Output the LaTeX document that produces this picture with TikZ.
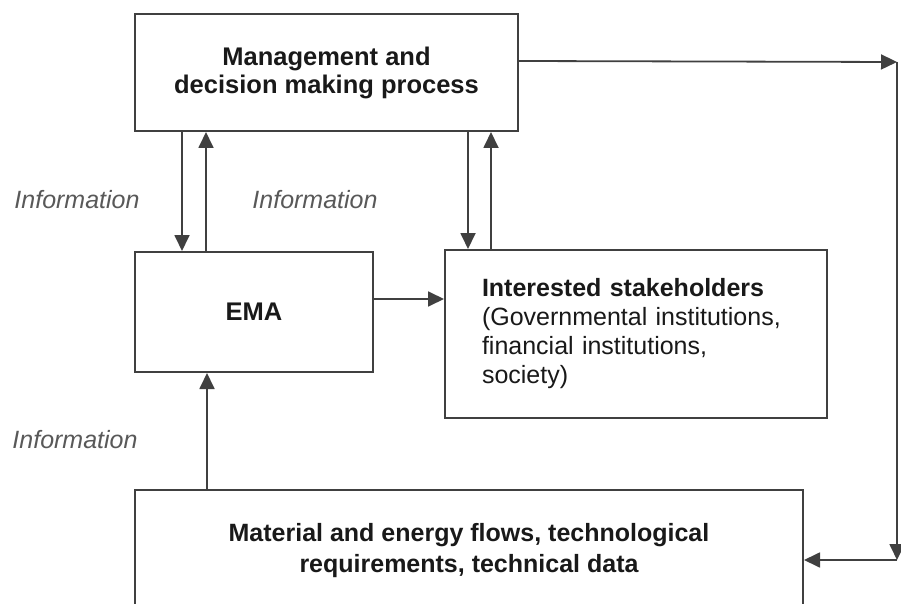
\documentclass[tikz,border=0pt]{standalone}
\usepackage{fontspec}
\setmainfont{Liberation Sans}
\usetikzlibrary{arrows.meta}
\begin{document}
\begin{tikzpicture}[x=1pt,y=-1pt,
  box/.style={draw=black!75, line width=2pt, fill=white, inner sep=0pt, align=center, text=black!90},
  arr/.style={draw=black!75, line width=1.8pt, -{Triangle[length=16pt,width=15pt]}},
  info/.style={font=\fontsize{25}{28}\selectfont\itshape, text=black!65}]
\clip (0,0) rectangle (901,604);
\fill[white] (0,0) rectangle (901,604);
\node[box, minimum width=383pt, minimum height=117pt, font=\fontsize{25.5}{28}\selectfont\bfseries] (top) at (326.5,72.5) {Management and\\decision making process};
\node[box, minimum width=238pt, minimum height=120pt, font=\fontsize{25.5}{28}\selectfont\bfseries] (ema) at (254,312) {EMA};
\node[box, minimum width=382pt, minimum height=168pt, text width=308pt, inner xsep=37pt, align=left, font=\fontsize{25}{29}\selectfont] (stake) at (636,334) {\textbf{Interested stakeholders}\\(Governmental institutions,\\financial institutions,\\society)};
\node[box, minimum width=668pt, minimum height=122pt, font=\fontsize{25}{31}\selectfont\bfseries] (bot) at (469,551) {Material and energy flows, technological\\requirements, technical data};
% top <-> EMA
\coordinate (a1) at ([xshift=48pt]ema.north west);
\coordinate (a2) at ([xshift=72pt]ema.north west);
\draw[arr] (a1 |- top.south) -- (a1);
\draw[arr] (a2) -- (a2 |- top.south);
% top <-> stakeholders
\coordinate (s1) at ([xshift=24pt]stake.north west);
\coordinate (s2) at ([xshift=47pt]stake.north west);
\draw[arr] (s1 |- top.south) -- (s1);
\draw[arr] (s2) -- (s2 |- top.south);
% EMA -> stakeholders
\coordinate (e1) at ([yshift=-48pt]ema.north east);
\draw[arr] (e1) -- (e1 -| stake.west);
% bottom -> EMA
\coordinate (b1) at ([xshift=73pt]bot.north west);
\draw[arr] (b1) -- (b1 |- ema.south);
% right loop
\coordinate (t1) at ([yshift=-48pt]top.north east);
\coordinate (c1) at (897,62);
\coordinate (c2) at (897,560);
\draw[arr] (t1) -- (c1);
\draw[arr] (c1) -- (c2);
\draw[arr] (c2) -- (c2 -| bot.east);
% labels
\node[info] (i1) at (77,200) {Information};
\node[info] (i2) at (315,200) {Information};
\node[info] (i3) at (75,440) {Information};
\end{tikzpicture}
\end{document}
